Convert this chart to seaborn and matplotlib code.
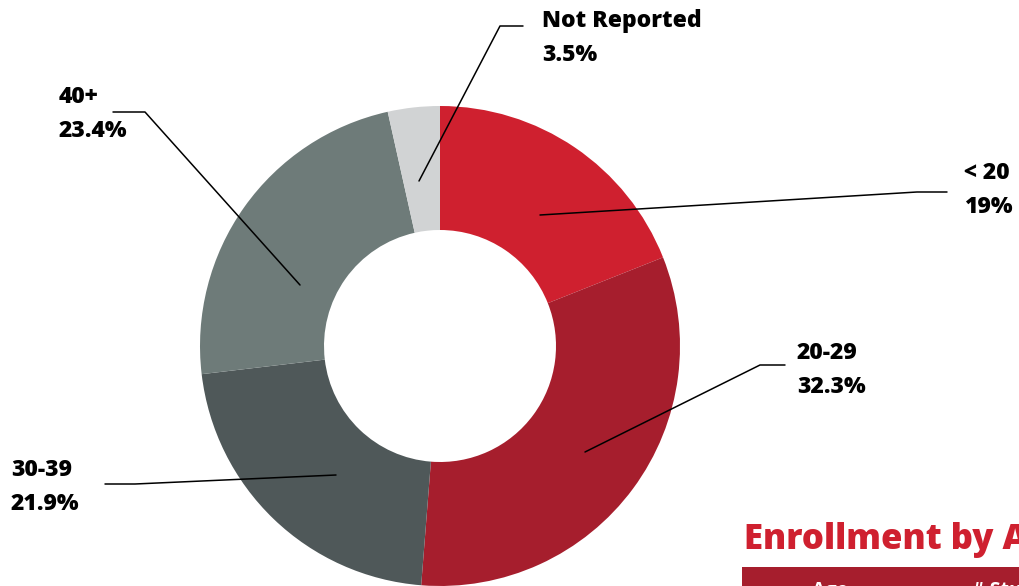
import matplotlib
matplotlib.use("Agg")
import matplotlib.pyplot as plt
import seaborn as sns
from matplotlib.patches import Rectangle

# age groups, clockwise from 12 o'clock
age_groups = ["< 20", "20-29", "30-39", "40+", "Not Reported"]
shares = [19.0, 32.3, 21.9, 23.4, 3.5]
share_labels = ["19%", "32.3%", "21.9%", "23.4%", "3.5%"]
slice_colors = ["#cf202f", "#a61e2d", "#4f5859", "#6e7b79", "#d1d3d4"]

sns.set_theme(style="white")
plt.rcParams["font.family"] = ["Open Sans", "DejaVu Sans"]

W, H = 1019, 586
fig = plt.figure(figsize=(W / 100, H / 100), dpi=100)
ax = fig.add_axes([0, 0, 1, 1])

cx, cy, r_out, r_in = 440, H - 346, 240, 116
ax.pie(shares, colors=sns.color_palette(slice_colors), startangle=90,
       counterclock=False, center=(cx, cy), radius=r_out,
       wedgeprops=dict(width=r_out - r_in, linewidth=0), frame=True)
ax.set_xlim(0, W)
ax.set_ylim(0, H)
ax.set_aspect("equal")
ax.axis("off")

# leader lines (pixel coords, y measured from top) and label anchors
leaders = {
    "< 20": [(540, 215), (917, 192), (947, 192)],
    "20-29": [(585, 452), (760, 365), (785, 365)],
    "30-39": [(336, 475), (135, 484), (105, 484)],
    "40+": [(300, 285), (145, 112), (113, 112)],
    "Not Reported": [(419, 181), (500, 26), (523, 26)],
}
label_pos = {
    "< 20": (964, 161),
    "20-29": (797, 341),
    "30-39": (11, 458),
    "40+": (59, 85),
    "Not Reported": (542, 9),
}

for name, lab in zip(age_groups, share_labels):
    pts = leaders[name]
    ax.plot([p[0] for p in pts], [H - p[1] for p in pts], color="black", lw=1.1)
    x, y = label_pos[name]
    ax.text(x, H - y, f"{name}\n{lab}", ha="left", va="top", fontsize=16.5,
            fontweight="heavy", color="black", linespacing=1.55)

# cut-off title and table header at the bottom right
ax.text(744, H - 549, "Enrollment by Age", ha="left", va="baseline", fontsize=25,
        fontweight="heavy", color="#cf202f")
ax.add_patch(Rectangle((742, 0), W - 742, H - 567, color="#a61e2d", lw=0))
ax.text(812, H - 581, "Age", ha="left", va="top", fontsize=14,
        fontweight="bold", color="white")
ax.text(972, H - 581, "# Students", ha="left", va="top", fontsize=14,
        fontweight="bold", color="white")

fig.savefig("out.png", dpi=100)
